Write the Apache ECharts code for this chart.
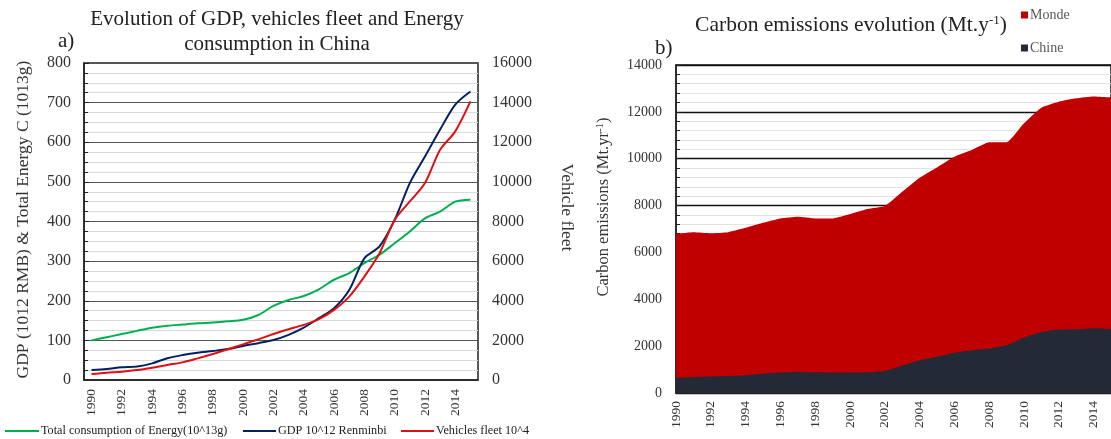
<!DOCTYPE html>
<html><head><meta charset="utf-8">
<script src="https://cdn.jsdelivr.net/npm/echarts@6/dist/echarts.min.js"></script>
<style>html,body{margin:0;padding:0;background:#fff}#c{width:1111px;height:439px}</style>
</head><body><div id="c"></div>
<script>
var years = ['1990','1991','1992','1993','1994','1995','1996','1997','1998','1999','2000','2001','2002','2003','2004','2005','2006','2007','2008','2009','2010','2011','2012','2013','2014','2015'];
var energy = [100,108,116,124,132,137,140,143,145,148,152,164,187,202,212,229,253,270,295,316,345,375,408,425,450,455];
var gdp = [25,28,32,34,42,55,63,69,73,78,86,93,101,114,132,156,181,227,307,337,404,497,564,632,695,728];
var vehicles = [300,370,420,500,620,760,890,1090,1310,1550,1800,2050,2320,2560,2780,3070,3540,4210,5220,6400,8080,9010,9940,11620,12550,14060];
var monde = [6800,6866,6823,6866,7050,7265,7450,7520,7450,7450,7635,7850,7980,8590,9190,9630,10085,10370,10700,10700,11510,12180,12435,12580,12660,12620];
var chine = [650,680,700,725,755,826,870,897,883,870,870,883,940,1170,1400,1550,1720,1823,1895,2037,2365,2607,2707,2720,2763,2735];

var F = 'Liberation Serif';
var plain = function(v){ return String(v); };
var chart = echarts.init(document.getElementById('c'), null, {renderer:'canvas'});
var lgText = {fontFamily:F,fontSize:12.2,color:'#222',padding:[0,0,0,-3]};
chart.setOption({
  animation:false,
  textStyle:{fontFamily:F},
  title:[
    {text:'Evolution of GDP, vehicles fleet and Energy\nconsumption in China', left:272, top:2, textAlign:'center',
     textStyle:{fontFamily:F, fontSize:21, fontWeight:'normal', color:'#222', lineHeight:25}},
    {text:'a)', left:53, top:26, textStyle:{fontFamily:F, fontSize:21, fontWeight:'normal', color:'#222'}},
    {text:'Carbon emissions evolution (Mt.y{s|-1})', left:846, top:9, textAlign:'center',
     textStyle:{fontFamily:F, fontSize:21.5, fontWeight:'normal', color:'#222', rich:{s:{fontFamily:F,fontSize:13,verticalAlign:'top',color:'#222',padding:[0,0,8,0]}}}},
    {text:'b)', left:650, top:33, textStyle:{fontFamily:F, fontSize:21, fontWeight:'normal', color:'#222'}}
  ],
  legend:[
    {data:['Total consumption of Energy(10^13g)'], left:5, top:425, padding:0, icon:'rect', itemWidth:34, itemHeight:2, textStyle:lgText},
    {data:['GDP 10^12 Renminbi'], left:243, top:425, padding:0, icon:'rect', itemWidth:33, itemHeight:2, textStyle:lgText},
    {data:['Vehicles fleet 10^4'], left:401, top:425, padding:0, icon:'rect', itemWidth:33, itemHeight:2, textStyle:lgText},
    {data:['Monde'], left:1021, top:8, padding:0, icon:'rect', itemWidth:7, itemHeight:7, textStyle:{fontFamily:F,fontSize:14,color:'#595959',padding:[0,0,0,-3]}},
    {data:['Chine'], left:1021, top:41, padding:0, icon:'rect', itemWidth:7, itemHeight:7, textStyle:{fontFamily:F,fontSize:14,color:'#595959',padding:[0,0,0,-3]}}
  ],
  grid:[
    {left:84, top:63, width:394, height:317, show:true, borderColor:'#222', borderWidth:1.5, backgroundColor:'transparent'},
    {left:676, top:65, right:-3, height:328, show:true, borderColor:'#111', borderWidth:1.5, backgroundColor:'transparent'}
  ],
  xAxis:[
    {type:'category', gridIndex:0, data:years, boundaryGap:true,
     axisLine:{lineStyle:{color:'#222', width:1.5}},
     axisTick:{inside:true, interval:1, length:5, lineStyle:{color:'#222'}},
     axisLabel:{interval:1, rotate:90, margin:9, fontSize:13.5, fontFamily:F, color:'#333'}},
    {type:'category', gridIndex:1, data:years, boundaryGap:false,
     axisLine:{lineStyle:{color:'#222', width:1.5}},
     axisTick:{show:false},
     axisLabel:{interval:1, rotate:90, margin:8, fontSize:13.5, fontFamily:F, color:'#333'}}
  ],
  yAxis:[
    {type:'value', gridIndex:0, min:0, max:800, interval:100,
     name:'GDP (1012 RMB) & Total Energy C (1013g)', nameLocation:'middle', nameGap:52,
     nameTextStyle:{fontFamily:F, fontSize:17.5, color:'#333', padding:[0,0,0,4]},
     axisLine:{show:true, lineStyle:{color:'#222', width:1.5}},
     axisTick:{show:true, inside:true, length:5, lineStyle:{color:'#222'}},
     minorTick:{show:true, splitNumber:4, length:4, lineStyle:{color:'#222'}},
     axisLabel:{margin:13, fontSize:16, fontFamily:F, color:'#333', formatter:plain},
     splitLine:{lineStyle:{color:'#555', width:1}},
     minorSplitLine:{show:true, lineStyle:{color:'#d9d9d9', width:1}}},
    {type:'value', gridIndex:0, position:'right', min:0, max:16000, interval:2000,
     name:'Vehicle fleet', nameLocation:'middle', nameGap:80, nameRotate:-90,
     nameTextStyle:{fontFamily:F, fontSize:17.5, color:'#333', padding:[0,28,0,0]},
     axisLine:{show:false}, axisTick:{show:false}, splitLine:{show:false},
     axisLabel:{margin:14, fontSize:16, fontFamily:F, color:'#333', formatter:plain}},
    {type:'value', gridIndex:1, min:0, max:14000, interval:2000,
     name:'Carbon emissions (Mt.yr{s|-1})', nameLocation:'middle', nameGap:64,
     nameTextStyle:{fontFamily:F, fontSize:16.5, color:'#333', padding:[0,0,0,44], rich:{s:{fontFamily:F,fontSize:11,color:'#333',verticalAlign:'top'}}},
     axisLine:{show:true, lineStyle:{color:'#222', width:1.5}},
     axisTick:{show:true, inside:true, length:5, lineStyle:{color:'#222'}},
     minorTick:{show:true, splitNumber:5, length:4, lineStyle:{color:'#222'}},
     axisLabel:{margin:14, fontSize:14, fontFamily:F, color:'#333', formatter:plain},
     splitLine:{lineStyle:{color:'#111', width:1.3}},
     minorSplitLine:{show:true, lineStyle:{color:'#e3e3e3', width:1}}}
  ],
  series:[
    {name:'Total consumption of Energy(10^13g)', type:'line', xAxisIndex:0, yAxisIndex:0, data:energy, smooth:0.3, showSymbol:false, color:'#00b050', lineStyle:{width:2}},
    {name:'GDP 10^12 Renminbi', type:'line', xAxisIndex:0, yAxisIndex:0, data:gdp, smooth:0.3, showSymbol:false, color:'#002060', lineStyle:{width:2}},
    {name:'Vehicles fleet 10^4', type:'line', xAxisIndex:0, yAxisIndex:1, data:vehicles, smooth:0.3, showSymbol:false, color:'#e01010', lineStyle:{width:2}},
    {name:'Monde', type:'line', xAxisIndex:1, yAxisIndex:2, data:monde, smooth:0.15, showSymbol:false, color:'#c00000', lineStyle:{width:0}, areaStyle:{color:'#c00000', opacity:1}},
    {name:'Chine', type:'line', xAxisIndex:1, yAxisIndex:2, data:chine, smooth:0.15, showSymbol:false, color:'#232a36', lineStyle:{width:0}, areaStyle:{color:'#232a36', opacity:1}}
  ]
});
</script></body></html>
